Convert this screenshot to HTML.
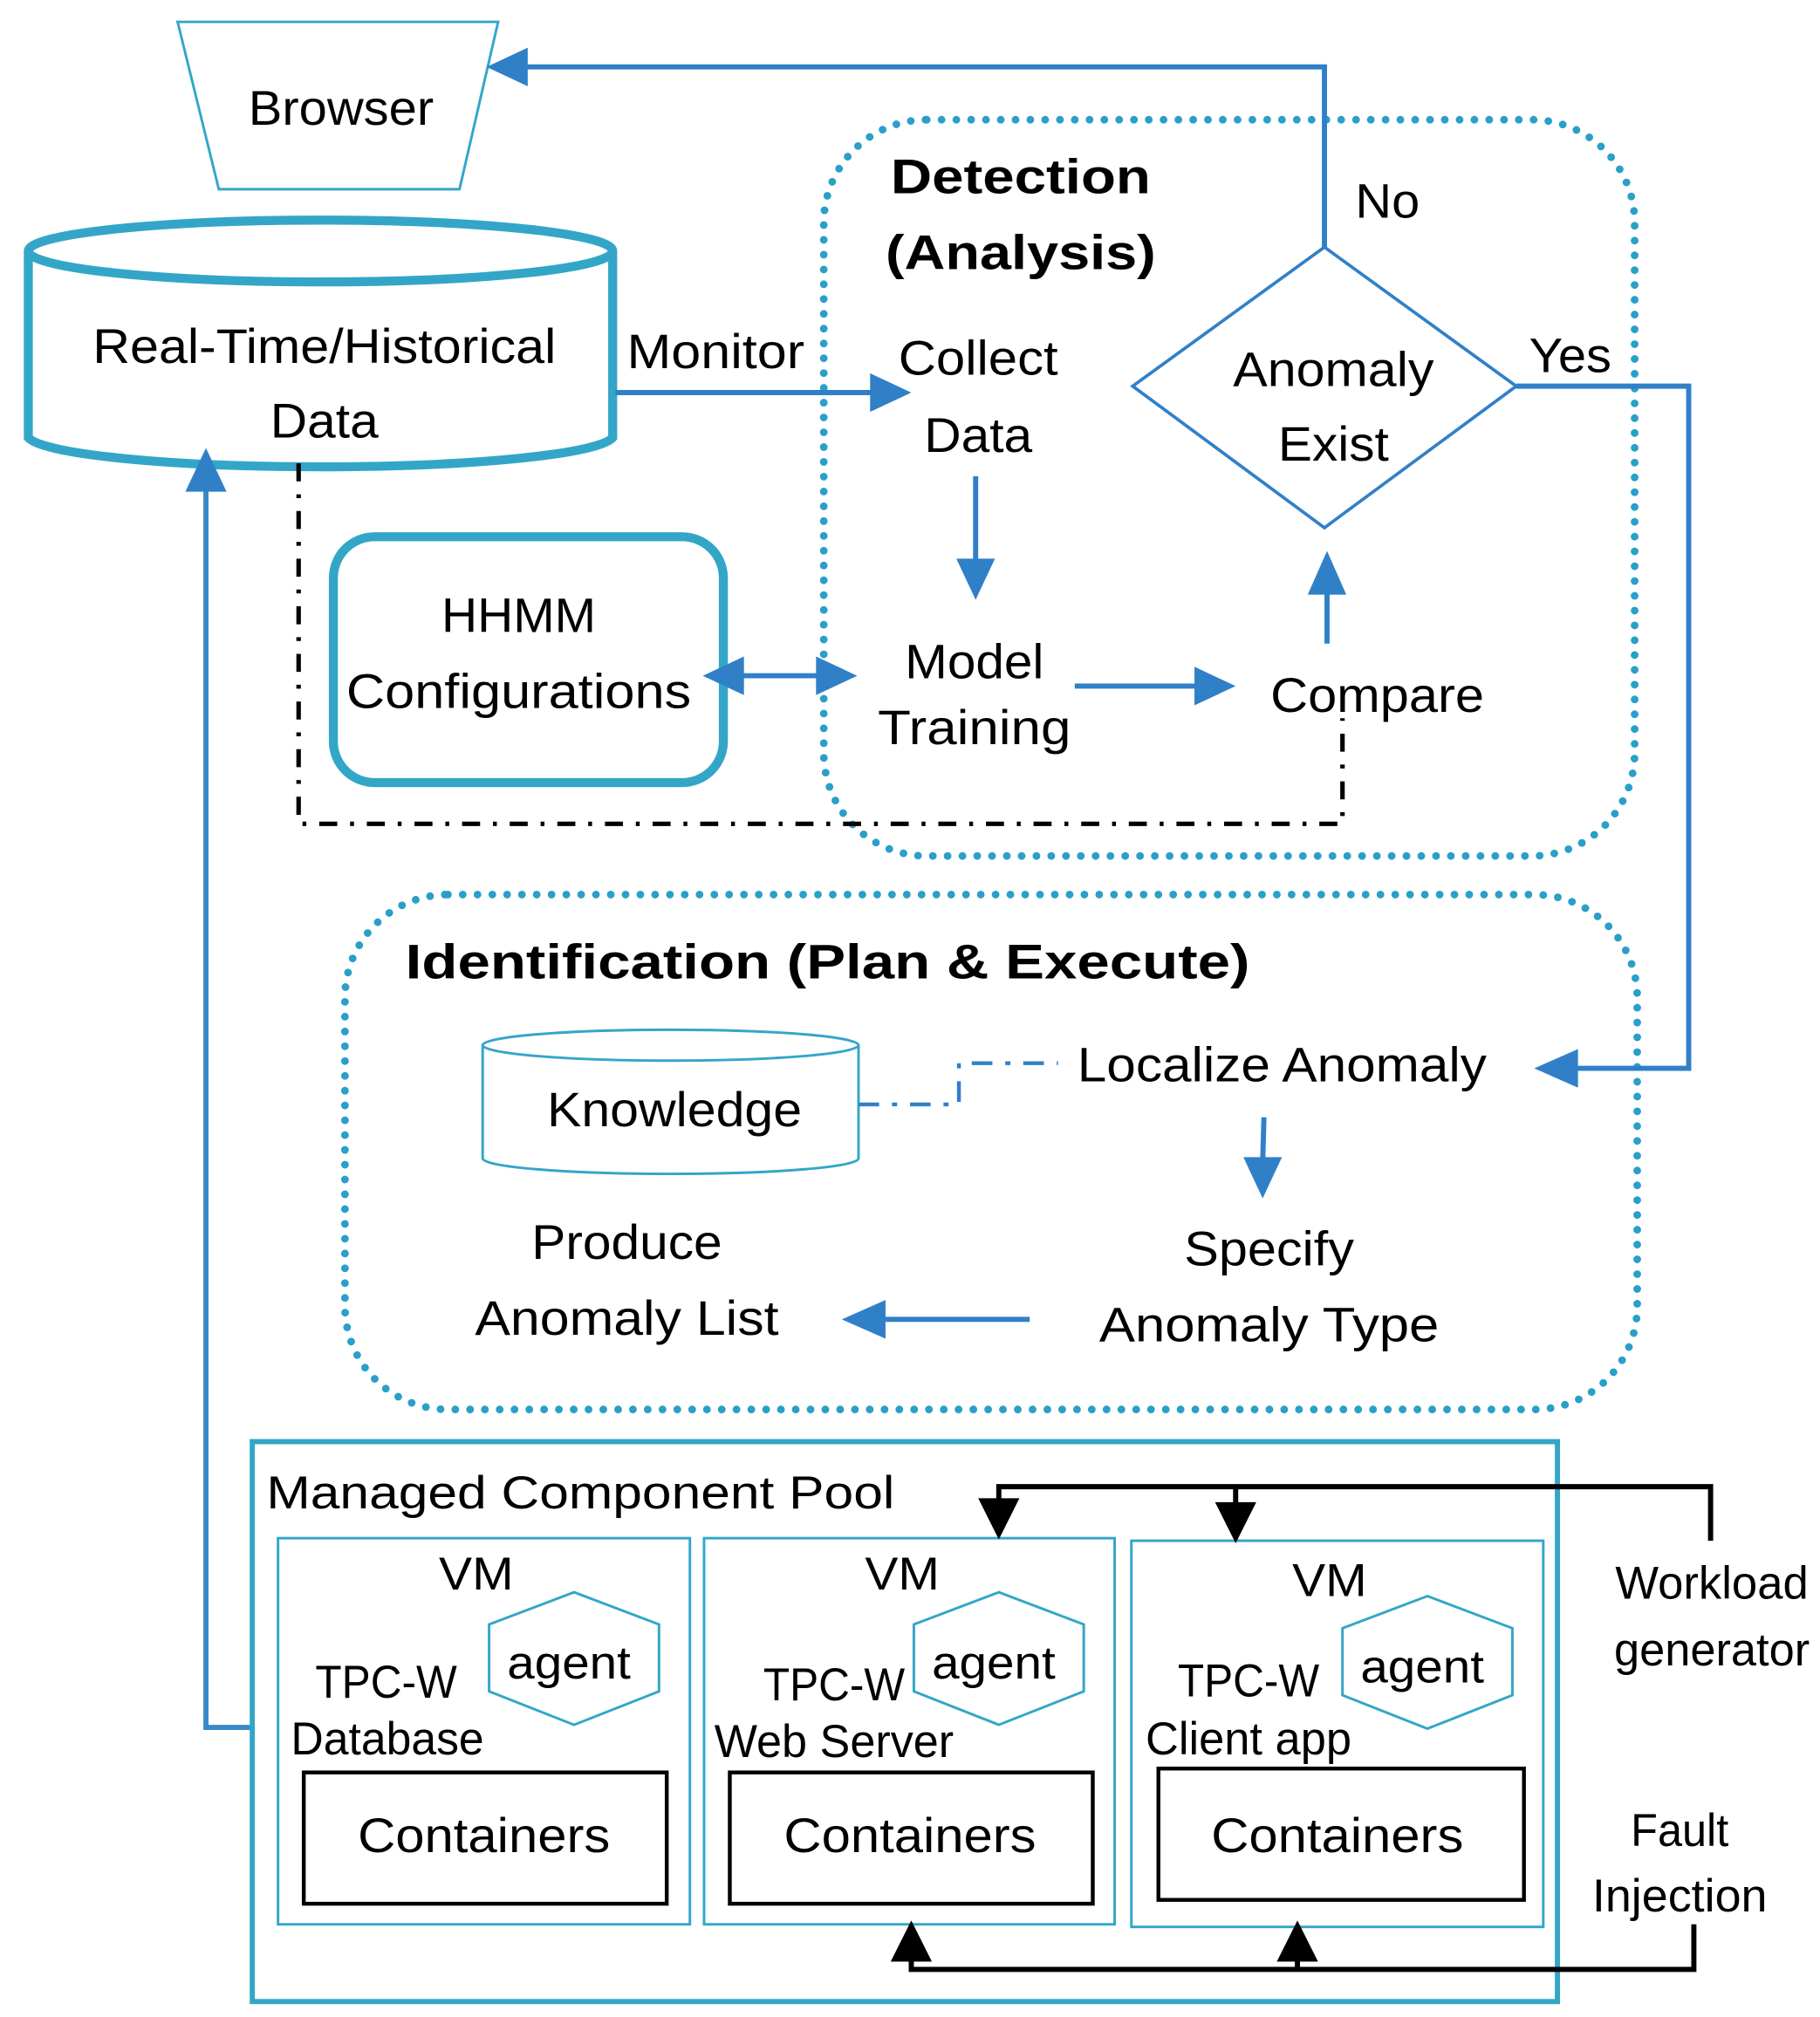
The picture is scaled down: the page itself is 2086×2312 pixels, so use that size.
<!DOCTYPE html>
<html><head><meta charset="utf-8"><style>
html,body{margin:0;padding:0;background:#fff}
svg{display:block}
text{font-family:"Liberation Sans","DejaVu Sans",sans-serif;fill:#000;text-anchor:middle}
.b{font-weight:bold}
</style></head><body>
<svg width="2086" height="2312" viewBox="0 0 1414 1567" preserveAspectRatio="none" xmlns="http://www.w3.org/2000/svg">
<g fill="none">
<polygon points="138,17 387,17 357,147 170,147" stroke="#33a6c8" stroke-width="2"/>
<path d="M22,195 L22,340 A228,25 0 0 0 476,340 L476,195" stroke="#33a6c8" stroke-width="7"/>
<ellipse cx="249" cy="195" rx="227" ry="24" stroke="#33a6c8" stroke-width="7"/>
<rect x="640" y="93" width="630" height="572" rx="80" stroke="#2a9fc8" stroke-width="6" stroke-dasharray="0 11.5" stroke-linecap="round"/>
<rect x="268" y="695" width="1004" height="400" rx="80" stroke="#2a9fc8" stroke-width="6" stroke-dasharray="0 11.5" stroke-linecap="round"/>
<polygon points="1029,192 1178,300 1029,410 880,300" stroke="#3080c8" stroke-width="2.5"/>
<rect x="259" y="417" width="303" height="191" rx="32" stroke="#33a6c8" stroke-width="7"/>
<g stroke="#3080c8" stroke-width="4">
<polyline points="1029,192 1029,52 405,52"/>
<polyline points="1178,300 1312,300 1312,830 1222,830"/>
<line x1="478" y1="305" x2="680" y2="305"/>
<line x1="758" y1="370" x2="758" y2="438"/>
<line x1="572" y1="525" x2="640" y2="525"/>
<line x1="835" y1="533" x2="932" y2="533"/>
<line x1="1031" y1="500" x2="1031" y2="458"/>
<line x1="982" y1="868" x2="981" y2="903"/>
<line x1="800" y1="1025" x2="682" y2="1025"/>
<polyline points="196,1342 160,1342 160,378" stroke="#3888c8"/>
</g>
<g fill="#3080c8">
<polygon points="378,52 410,37 410,67"/>
<polygon points="708,305 676,290 676,320"/>
<polygon points="758,466 743,434 773,434"/>
<polygon points="546,525 578,510 578,540"/>
<polygon points="666,525 634,510 634,540"/>
<polygon points="960,533 928,518 928,548"/>
<polygon points="1031,428 1016,462 1046,462"/>
<polygon points="1192,830 1226,815 1226,845"/>
<polygon points="981,931 966,899 996,899"/>
<polygon points="654,1025 688,1010 688,1040"/>
<polygon points="160,348 144,382 176,382"/>
</g>
<polyline points="232,360 232,640 1043,640 1043,558" stroke="#000" stroke-width="3.5" stroke-dasharray="14 10 3 10"/>
<path d="M375,812 L375,900 A146,12 0 0 0 667,900 L667,812" stroke="#33a6c8" stroke-width="2"/>
<ellipse cx="521" cy="812" rx="146" ry="12" stroke="#33a6c8" stroke-width="2"/>
<polyline points="667,858 745,858 745,826 822,826" stroke="#3080c8" stroke-width="3" stroke-dasharray="16 10 4 10"/>
<rect x="196" y="1120" width="1014" height="435" stroke="#33a6c8" stroke-width="4"/>
<rect x="216" y="1195" width="320" height="300" stroke="#33a6c8" stroke-width="2"/>
<rect x="547" y="1195" width="319" height="300" stroke="#33a6c8" stroke-width="2"/>
<rect x="879" y="1197" width="320" height="300" stroke="#33a6c8" stroke-width="2"/>
<polygon points="380,1262 446,1237 512,1262 512,1314 446,1340 380,1314" stroke="#33a6c8" stroke-width="2"/>
<polygon points="710,1262 776,1237 842,1262 842,1314 776,1340 710,1314" stroke="#33a6c8" stroke-width="2"/>
<polygon points="1043,1265 1109,1240 1175,1265 1175,1317 1109,1343 1043,1317" stroke="#33a6c8" stroke-width="2"/>
<rect x="236" y="1377" width="282" height="102" stroke="#000" stroke-width="3"/>
<rect x="567" y="1377" width="282" height="102" stroke="#000" stroke-width="3"/>
<rect x="900" y="1374" width="284" height="102" stroke="#000" stroke-width="3"/>
<polyline points="1329,1197 1329,1155 776,1155 776,1170" stroke="#000" stroke-width="4"/>
<line x1="960" y1="1155" x2="960" y2="1172" stroke="#000" stroke-width="4"/>
<polyline points="1316,1495 1316,1530 708,1530 708,1518" stroke="#000" stroke-width="4"/>
<line x1="1008" y1="1530" x2="1008" y2="1518" stroke="#000" stroke-width="4"/>
</g>
<g fill="#000">
<polygon points="776,1196 760,1164 792,1164"/>
<polygon points="960,1199 944,1167 976,1167"/>
<polygon points="708,1492 692,1524 724,1524"/>
<polygon points="1008,1492 992,1524 1024,1524"/>
</g>
<g font-size="38">
<text x="265" y="97" textLength="144" lengthAdjust="spacingAndGlyphs">Browser</text>
<text x="252" y="282" textLength="360" lengthAdjust="spacingAndGlyphs">Real-Time/Historical</text>
<text x="252" y="340" textLength="84" lengthAdjust="spacingAndGlyphs">Data</text>
<text x="556" y="286" textLength="138" lengthAdjust="spacingAndGlyphs">Monitor</text>
<text class="b" x="793" y="150" textLength="202" lengthAdjust="spacingAndGlyphs">Detection</text>
<text class="b" x="793" y="209" textLength="210" lengthAdjust="spacingAndGlyphs">(Analysis)</text>
<text x="1078" y="169" textLength="50" lengthAdjust="spacingAndGlyphs">No</text>
<text x="1220" y="289" textLength="64" lengthAdjust="spacingAndGlyphs">Yes</text>
<text x="1036" y="300" textLength="156" lengthAdjust="spacingAndGlyphs">Anomaly</text>
<text x="1036" y="358" textLength="86" lengthAdjust="spacingAndGlyphs">Exist</text>
<text x="760" y="291" textLength="124" lengthAdjust="spacingAndGlyphs">Collect</text>
<text x="760" y="351" textLength="84" lengthAdjust="spacingAndGlyphs">Data</text>
<text x="403" y="491" textLength="120" lengthAdjust="spacingAndGlyphs">HHMM</text>
<text x="403" y="550" textLength="268" lengthAdjust="spacingAndGlyphs">Configurations</text>
<text x="757" y="527" textLength="108" lengthAdjust="spacingAndGlyphs">Model</text>
<text x="757" y="578" textLength="150" lengthAdjust="spacingAndGlyphs">Training</text>
<text x="1070" y="553" textLength="166" lengthAdjust="spacingAndGlyphs">Compare</text>
<text class="b" x="643" y="760" textLength="656" lengthAdjust="spacingAndGlyphs">Identification (Plan &amp; Execute)</text>
<text x="524" y="875" textLength="198" lengthAdjust="spacingAndGlyphs">Knowledge</text>
<text x="996" y="840" textLength="318" lengthAdjust="spacingAndGlyphs">Localize Anomaly</text>
<text x="986" y="983" textLength="132" lengthAdjust="spacingAndGlyphs">Specify</text>
<text x="986" y="1042" textLength="264" lengthAdjust="spacingAndGlyphs">Anomaly Type</text>
<text x="487" y="978" textLength="148" lengthAdjust="spacingAndGlyphs">Produce</text>
<text x="487" y="1037" textLength="236" lengthAdjust="spacingAndGlyphs">Anomaly List</text>
<text x="376" y="1439" textLength="196" lengthAdjust="spacingAndGlyphs">Containers</text>
<text x="707" y="1439" textLength="196" lengthAdjust="spacingAndGlyphs">Containers</text>
<text x="1039" y="1439" textLength="196" lengthAdjust="spacingAndGlyphs">Containers</text>
</g>
<g font-size="36">
<text x="451" y="1172" textLength="488" lengthAdjust="spacingAndGlyphs">Managed  Component  Pool</text>
<text x="370" y="1235" textLength="58" lengthAdjust="spacingAndGlyphs">VM</text>
<text x="701" y="1235" textLength="58" lengthAdjust="spacingAndGlyphs">VM</text>
<text x="1033" y="1240" textLength="58" lengthAdjust="spacingAndGlyphs">VM</text>
<text x="442" y="1304" textLength="96" lengthAdjust="spacingAndGlyphs">agent</text>
<text x="772" y="1304" textLength="96" lengthAdjust="spacingAndGlyphs">agent</text>
<text x="1105" y="1307" textLength="96" lengthAdjust="spacingAndGlyphs">agent</text>
<text x="300" y="1319" textLength="110" lengthAdjust="spacingAndGlyphs">TPC-W</text>
<text x="301" y="1363" textLength="150" lengthAdjust="spacingAndGlyphs">Database</text>
<text x="648" y="1321" textLength="110" lengthAdjust="spacingAndGlyphs">TPC-W</text>
<text x="648" y="1365" textLength="186" lengthAdjust="spacingAndGlyphs">Web Server</text>
<text x="970" y="1318" textLength="110" lengthAdjust="spacingAndGlyphs">TPC-W</text>
<text x="970" y="1363" textLength="160" lengthAdjust="spacingAndGlyphs">Client app</text>
<text x="1330" y="1242" textLength="150" lengthAdjust="spacingAndGlyphs">Workload</text>
<text x="1330" y="1294" textLength="152" lengthAdjust="spacingAndGlyphs">generator</text>
<text x="1305" y="1434" textLength="76" lengthAdjust="spacingAndGlyphs">Fault</text>
<text x="1305" y="1485" textLength="136" lengthAdjust="spacingAndGlyphs">Injection</text>
</g>
</svg>
</body></html>
